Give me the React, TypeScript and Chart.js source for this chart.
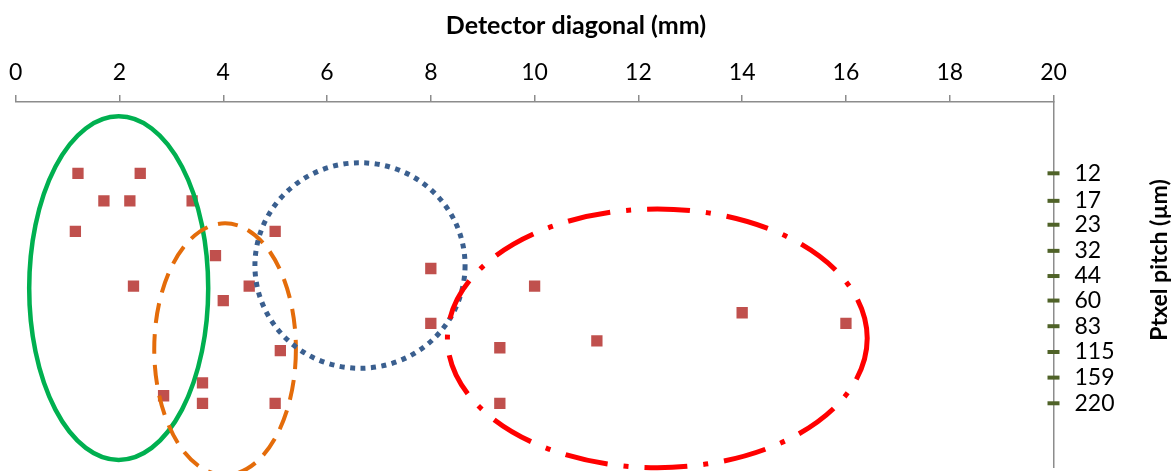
import React, { useEffect, useRef } from "react";
import { Chart, registerables } from "chart.js";

Chart.register(...registerables);

// ---- data ----
const diagonalMm = [1.2, 2.4, 1.7, 2.2, 3.4, 1.15, 5.0, 3.85, 8.0, 2.27, 4.5, 4.0, 10.0, 14.0, 16.0, 8.0, 5.1, 9.33, 11.2, 3.6, 2.85, 3.6, 5.0, 9.33];
const pitchUm = [12, 12, 17, 17, 17, 25, 25, 34, 40, 50, 50, 60, 50, 70, 80, 80, 113, 109, 100, 170, 200, 220, 220, 220];
const pitchTicks = [12, 17, 23, 32, 44, 60, 83, 115, 159, 220];
const markerX = 20;

const xMin = 0;
const xMax = 20;
const xStep = 2;
const yMin = 4.87;
const yMax = 492.5;

// group ellipses (bounds in data units)
const groupXMin = [0.26, 2.67, 4.61, 8.32];
const groupXMax = [3.71, 5.4, 8.66, 16.41];
const groupYMin = [5.84, 22.6, 10.5, 18.85];
const groupYMax = [450.6, 545, 141.3, 496.8];

const xTitle = "Detector diagonal (mm)";
const yTitle = "Ptxel pitch (µm)";

const FONT = "Lato, 'Open Sans', sans-serif";

const ellipseStyles = [
  { color: "#00B050", width: 4.5, dash: [] as number[] },
  { color: "#E46C0A", width: 4, dash: [20, 11] },
  { color: "#3A5F8F", width: 5, dash: [5, 5.5] },
  { color: "#FF0000", width: 5, dash: [43, 16, 5, 16] },
];

const overlayPlugin = {
  id: "overlay",
  afterLayout(chart: any) {
    // keep the plot area bottom 4px above the canvas edge
    const target = chart.height - 4;
    const ca = chart.chartArea;
    ca.bottom = target;
    ca.height = target - ca.top;
    const ys = chart.scales.y;
    ys.bottom = target;
    ys.height = target - ys.top;
    ys.configure();
  },
  afterDraw(chart: any) {
    const { ctx, scales } = chart;
    const xs = scales.x;
    const ys = scales.y;
    ctx.save();
    groupXMin.forEach((_, i) => {
      const x0 = xs.getPixelForValue(groupXMin[i]);
      const x1 = xs.getPixelForValue(groupXMax[i]);
      const y0 = ys.getPixelForValue(groupYMin[i]);
      const y1 = ys.getPixelForValue(groupYMax[i]);
      const st = ellipseStyles[i];
      ctx.beginPath();
      ctx.ellipse((x0 + x1) / 2, (y0 + y1) / 2, Math.abs(x1 - x0) / 2, Math.abs(y1 - y0) / 2, 0, 0, Math.PI * 2);
      ctx.strokeStyle = st.color;
      ctx.lineWidth = st.width;
      ctx.lineCap = "butt";
      ctx.setLineDash(st.dash);
      ctx.stroke();
    });
    ctx.setLineDash([]);
    ctx.fillStyle = "#000";
    ctx.textAlign = "center";
    ctx.textBaseline = "middle";
    ctx.font = `bold 25px ${FONT}`;
    ctx.fillText(xTitle, 576, 26);
    ctx.font = `bold 23px ${FONT}`;
    ctx.translate(1160, 260);
    ctx.rotate(-Math.PI / 2);
    ctx.fillText(yTitle, 0, 0);
    ctx.restore();
  },
};

export default function App() {
  const ref = useRef<HTMLCanvasElement>(null);

  useEffect(() => {
    if (!ref.current) return;
    const points = diagonalMm.map((x, i) => ({ x, y: pitchUm[i] }));
    const markers = pitchTicks.map((v) => ({ x: markerX, y: v }));
    const tickFont = { family: FONT, size: 23 };
    const chart = new Chart(ref.current, {
      type: "scatter",
      data: {
        datasets: [
          {
            data: points,
            pointStyle: "rect",
            pointRadius: 8,
            pointBackgroundColor: "#C0504D",
            pointBorderColor: "#C0504D",
            pointBorderWidth: 0,
          },
          {
            data: markers,
            pointStyle: "line",
            pointRadius: 6,
            pointBorderColor: "#4F6228",
            pointBorderWidth: 4,
            clip: false,
          },
          {
            data: markers,
            pointStyle: "line",
            pointRadius: 5,
            pointBorderColor: "#A9C96A",
            pointBorderWidth: 2.4,
            clip: false,
          },
        ],
      } as any,
      options: {
        responsive: false,
        animation: false,
        devicePixelRatio: 1,
        layout: { padding: { left: 15.7, right: 0, top: 0, bottom: 4 } },
        plugins: {
          legend: { display: false },
          tooltip: { enabled: false },
          title: { display: false },
        },
        scales: {
          x: {
            type: "linear",
            position: "top",
            min: xMin,
            max: xMax,
            ticks: { stepSize: xStep, padding: 9, font: tickFont, color: "#000" },
            grid: { drawOnChartArea: false, drawTicks: true, tickLength: 7, color: "#8c8c8c", lineWidth: 1.5 },
            border: { display: true, color: "#8c8c8c", width: 1.5 },
            afterFit: (s: any) => {
              s.height = 102;
              s.paddingLeft = 0;
              s.paddingRight = 0;
            },
          },
          y: {
            type: "logarithmic",
            position: "right",
            reverse: true,
            min: yMin,
            max: yMax,
            afterBuildTicks: (s: any) => {
              s.ticks = pitchTicks.map((v) => ({ value: v }));
            },
            ticks: {
              padding: 21,
              font: tickFont,
              color: "#000",
              callback: (v: any) => String(v),
            },
            grid: { drawOnChartArea: false, drawTicks: false },
            border: { display: true, color: "#8c8c8c", width: 1.5 },
            afterFit: (s: any) => {
              s.width = 122.5;
              s.paddingTop = 0;
              s.paddingBottom = 0;
            },
          },
        },
      } as any,
      plugins: [overlayPlugin],
    });
    return () => chart.destroy();
  }, []);

  return (
    <div style={{ position: "fixed", left: 0, top: 0, width: 1176, height: 471, background: "#fff" }}>
      <canvas ref={ref} width={1176} height={471} />
    </div>
  );
}
